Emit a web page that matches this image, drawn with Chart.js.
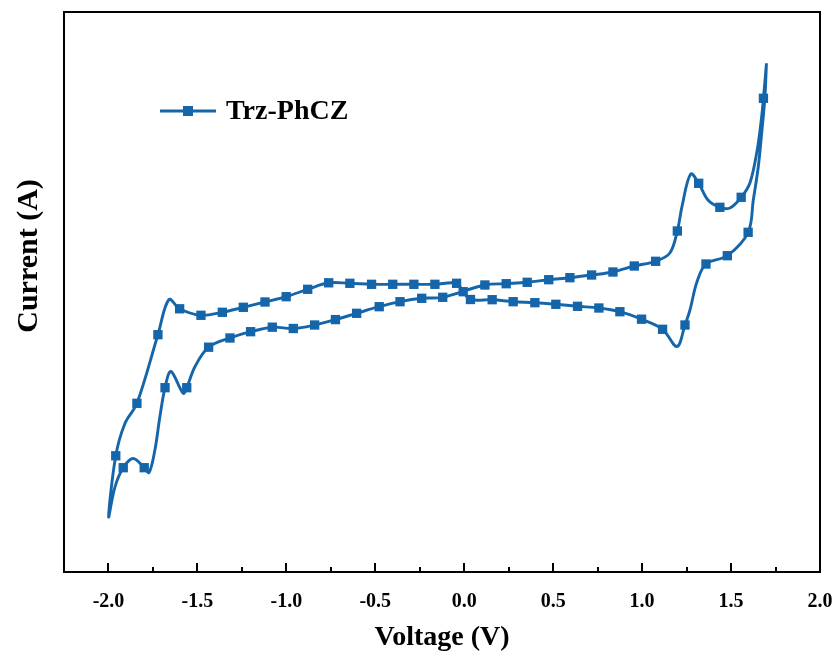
<!DOCTYPE html>
<html>
<head>
<meta charset="utf-8">
<script src="https://cdn.jsdelivr.net/npm/chart.js@4.4.1/dist/chart.umd.min.js"></script>
<style>
  html, body { margin: 0; padding: 0; background: #ffffff; }
  #c { display: block; }
</style>
</head>
<body>
<canvas id="c" width="836" height="655"></canvas>
<script>
// ---- Data (Voltage in V, current in arbitrary units) ----
const seriesName = 'Trz-PhCZ';

// Full traced loop (closed path)
const voltage = [
  1.699, 1.690, 1.672, 1.653, 1.625, 1.596, 1.479, 1.359, 1.308, 1.269,
  1.241, 1.196, 1.115, 0.997, 0.875, 0.757, 0.637, 0.515, 0.397, 0.275,
  0.157, 0.035, -0.006, -0.043, -0.165, -0.283, -0.402, -0.521, -0.643, -0.762,
  -0.880, -1.001, -1.120, -1.242, -1.360, -1.480, -1.600, -1.660, -1.722,
  -1.840, -1.907, -1.959, -1.999, -1.963, -1.917, -1.861, -1.799, -1.772, -1.739,
  -1.711, -1.682, -1.649, -1.580, -1.560, -1.514, -1.437, -1.317, -1.201, -1.079,
  -0.961, -0.841, -0.724, -0.605, -0.478, -0.361, -0.239, -0.121, 0.116, 0.236,
  0.354, 0.475, 0.594, 0.716, 0.836, 0.956, 1.076, 1.156, 1.198, 1.224,
  1.273, 1.318, 1.370, 1.437, 1.494, 1.557, 1.606, 1.647, 1.672, 1.682,
  1.699
];
const current = [
  2.287, 1.940, 1.587, 1.253, 0.920, 0.597, 0.363, 0.280, 0.100, -0.180,
  -0.330, -0.545, -0.373, -0.272, -0.197, -0.160, -0.143, -0.123, -0.107, -0.097,
  -0.077, -0.075, 0.003, 0.087, 0.077, 0.077, 0.077, 0.077, 0.087, 0.092,
  0.027, -0.047, -0.100, -0.153, -0.203, -0.233, -0.168, -0.075, -0.427,
  -1.113, -1.313, -1.638, -2.247, -1.947, -1.757, -1.665, -1.757, -1.805, -1.580,
  -1.247, -0.957, -0.795, -1.013, -0.957, -0.747, -0.552, -0.460, -0.397, -0.352,
  -0.365, -0.330, -0.276, -0.213, -0.147, -0.097, -0.063, -0.053, 0.070, 0.083,
  0.097, 0.123, 0.143, 0.170, 0.200, 0.260, 0.307, 0.390, 0.610, 0.853,
  1.180, 1.087, 0.920, 0.847, 0.840, 0.947, 1.090, 1.420, 1.753, 1.937,
  2.287
];

// Square markers shown on the curve
const markerVoltage = [
  1.596, 1.479, 1.359, 1.241, 1.115, 0.997, 0.875, 0.757, 0.637, 0.515,
  0.397, 0.275, 0.157, 0.035, -0.006, -0.043, -0.165, -0.283, -0.402, -0.521,
  -0.643, -0.762, -0.880, -1.001, -1.120, -1.242, -1.360, -1.480, -1.600, -1.722,
  -1.840, -1.959, -1.917, -1.799, -1.682, -1.560, -1.437, -1.317, -1.201, -1.079,
  -0.961, -0.841, -0.724, -0.605, -0.478, -0.361, -0.239, -0.121, 0.116, 0.236,
  0.354, 0.475, 0.594, 0.716, 0.836, 0.956, 1.076, 1.198, 1.318, 1.437,
  1.557, 1.682
];
const markerCurrent = [
  0.597, 0.363, 0.280, -0.330, -0.373, -0.272, -0.197, -0.160, -0.143, -0.123,
  -0.107, -0.097, -0.077, -0.075, 0.003, 0.087, 0.077, 0.077, 0.077, 0.077,
  0.087, 0.092, 0.027, -0.047, -0.100, -0.153, -0.203, -0.233, -0.168, -0.427,
  -1.113, -1.638, -1.757, -1.757, -0.957, -0.957, -0.552, -0.460, -0.397, -0.352,
  -0.365, -0.330, -0.276, -0.213, -0.147, -0.097, -0.063, -0.053, 0.070, 0.083,
  0.097, 0.123, 0.143, 0.170, 0.200, 0.260, 0.307, 0.610, 1.087, 0.847,
  0.947, 1.937
];

const majorTickValues = [-2.0, -1.5, -1.0, -0.5, 0.0, 0.5, 1.0, 1.5, 2.0];
const minorTickValues = [-1.75, -1.25, -0.75, -0.25, 0.25, 0.75, 1.25, 1.75];
const tickLabels = ['-2.0', '-1.5', '-1.0', '-0.5', '0.0', '0.5', '1.0', '1.5', '2.0'];

const xTitle = 'Voltage (V)';
const yTitle = 'Current (A)';

// ---- Styling ----
const BLUE = '#1565aa';
const SERIF = '"Liberation Serif", "Times New Roman", serif';

const curvePoints = voltage.map((v, i) => ({ x: v, y: current[i] }));
const markerPoints = markerVoltage.map((v, i) => ({ x: v, y: markerCurrent[i] }));

const framePlugin = {
  id: 'framePlugin',
  afterDraw(chart) {
    const ctx = chart.ctx;
    const a = chart.chartArea;
    const xs = chart.scales.x;
    ctx.save();
    ctx.strokeStyle = '#000';
    ctx.lineWidth = 2;
    ctx.strokeRect(a.left, a.top, a.right - a.left, a.bottom - a.top);
    // inward ticks on bottom axis
    ctx.beginPath();
    majorTickValues.forEach(v => {
      const px = Math.round(xs.getPixelForValue(v));
      ctx.moveTo(px, a.bottom);
      ctx.lineTo(px, a.bottom - 9);
    });
    minorTickValues.forEach(v => {
      const px = Math.round(xs.getPixelForValue(v));
      ctx.moveTo(px, a.bottom);
      ctx.lineTo(px, a.bottom - 5);
    });
    ctx.stroke();

    // y-axis title
    ctx.fillStyle = '#000';
    ctx.font = 'bold 30px ' + SERIF;
    ctx.textAlign = 'center';
    ctx.textBaseline = 'middle';
    ctx.translate(29, 256);
    ctx.rotate(-Math.PI / 2);
    ctx.fillText(yTitle, 0, 0);
    ctx.restore();

    // legend
    ctx.save();
    ctx.strokeStyle = BLUE;
    ctx.lineWidth = 2.8;
    ctx.beginPath();
    ctx.moveTo(160, 111);
    ctx.lineTo(216, 111);
    ctx.stroke();
    ctx.fillStyle = BLUE;
    ctx.fillRect(188 - 5, 111 - 5, 10, 10);
    ctx.fillStyle = '#000';
    ctx.font = 'bold 28px ' + SERIF;
    ctx.textAlign = 'left';
    ctx.textBaseline = 'middle';
    ctx.fillText(seriesName, 226, 112);
    ctx.restore();
  }
};

new Chart(document.getElementById('c'), {
  type: 'scatter',
  data: {
    datasets: [
      {
        label: seriesName,
        data: curvePoints,
        showLine: true,
        borderColor: BLUE,
        backgroundColor: BLUE,
        borderWidth: 2.9,
        pointRadius: 0,
        pointHoverRadius: 0,
        tension: 0.35,
        fill: false
      },
      {
        label: seriesName + ' markers',
        data: markerPoints,
        showLine: false,
        pointStyle: 'rect',
        pointRadius: 6.6,
        pointBorderWidth: 0,
        borderColor: BLUE,
        backgroundColor: BLUE
      }
    ]
  },
  options: {
    responsive: false,
    animation: false,
    devicePixelRatio: 1,
    layout: { padding: { top: 12, right: 16, left: 64, bottom: 0 } },
    plugins: {
      legend: { display: false },
      tooltip: { enabled: false }
    },
    scales: {
      x: {
        type: 'linear',
        min: -2.25,
        max: 2.0,
        afterBuildTicks: (s) => { s.ticks = majorTickValues.map(v => ({ value: v })); },
        afterFit: (s) => { s.height = 83; s.paddingLeft = 0; s.paddingRight = 0; },
        ticks: {
          callback: (value) => {
            const i = majorTickValues.findIndex(t => Math.abs(t - value) < 1e-9);
            return i >= 0 ? tickLabels[i] : '';
          },
          font: { family: SERIF, size: 20, weight: 'bold' },
          color: '#000',
          padding: 18,
          maxRotation: 0,
          autoSkip: false
        },
        grid: { display: false, drawTicks: false },
        border: { display: false },
        title: {
          display: true,
          text: xTitle,
          color: '#000',
          font: { family: SERIF, size: 28, weight: 'bold' },
          padding: { top: 0, bottom: 0 }
        }
      },
      y: {
        type: 'linear',
        min: -2.8,
        max: 2.8,
        display: false
      }
    }
  },
  plugins: [framePlugin]
});
</script>
</body>
</html>
